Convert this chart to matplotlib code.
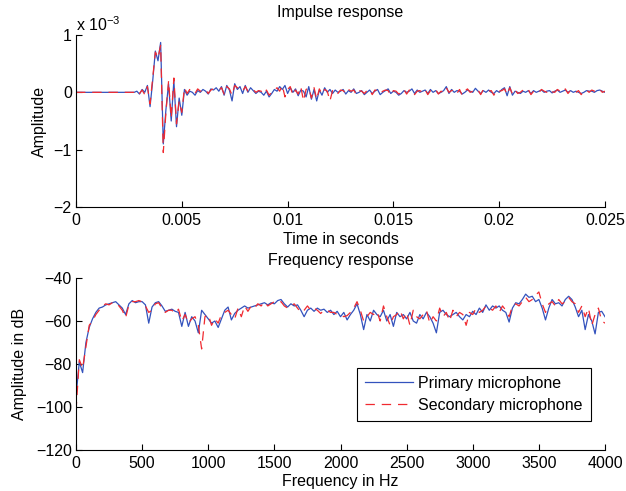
import matplotlib
matplotlib.use("Agg")
import matplotlib.pyplot as plt
import numpy as np

plt.rcParams['font.family'] = ['Liberation Sans', 'DejaVu Sans']
plt.rcParams['mathtext.fontset'] = 'custom'
plt.rcParams['mathtext.rm'] = 'Liberation Sans'
plt.rcParams['mathtext.it'] = 'Liberation Sans:italic'

# impulse response, sampled at 8 kHz, amplitudes in units of 1e-3
fs = 8000
imp_primary = [
    0, 0, 0, 0, 0, 0, 0, 0, 0, 0,
    0, 0, 0, 0, 0, 0, 0, 0, 0, 0,
    0, 0, 0.0, 0.02, -0.03, 0.05, 0.0, 0.12, -0.25, 0.2,
    0.72, 0.55, 0.87, -0.9, -0.3, 0.15, -0.5, 0.2, -0.6, -0.1,
    -0.4, 0.05, -0.05, 0.02, 0.0, -0.05, 0.03, 0.0, 0.05, 0.02,
    -0.03, 0.06, 0.04, 0.08, 0.02, 0.1, -0.05, 0.12, 0.04, -0.15,
    0.15, 0.05, 0.1, -0.02, 0.12, 0.0, 0.08, 0.03, -0.02, 0.02,
    0.0, -0.05, 0.02, -0.08, -0.02, 0.05, 0.02, 0.1, 0.05, 0.12,
    -0.02, 0.08, 0.0, 0.06, -0.06, 0.04, 0.02, -0.08, 0.1, -0.12,
    0.05, -0.15, 0.04, -0.05, 0.08, 0.0, 0.05, -0.02, 0.04, 0.0,
    0.02, 0.05, -0.03, 0.03, 0.0, 0.06, -0.02, 0.0, 0.03, -0.04,
    0.0, 0.04, -0.02, 0.02, 0.05, -0.04, 0.0, 0.03, 0.06, -0.02,
    0.02, 0.0, -0.05, -0.02, 0.03, 0.0, 0.02, 0.06, -0.02, 0.04,
    0.0, 0.02, 0.04, -0.02, 0.05, 0.0, 0.03, -0.02, 0.0, 0.03,
    0.1, -0.02, 0.05, 0.0, 0.03, 0.02, -0.03, 0.0, 0.04, 0.02,
    0.0, 0.07, 0.02, -0.02, 0.03, 0.0, 0.04, 0.0, -0.02, 0.03,
    0.0, 0.05, 0.08, -0.06, 0.1, -0.05, 0.02, 0.0, -0.02, 0.02,
    0.0, 0.03, -0.02, 0.03, 0.0, 0.02, 0.04, 0.0, 0.02, 0.03,
    -0.01, 0.02, 0.04, 0.0, 0.02, 0.04, 0.0, 0.03, 0.0, 0.02,
    0.0, -0.02, 0.0, 0.03, 0.02, 0.02, 0.0, 0.03, 0.04, 0.02,
    0.0,
]
imp_secondary = [
    0, 0, 0, 0, 0, 0, 0, 0, 0, 0,
    0, 0, 0, 0, 0, 0, 0, 0, 0, 0,
    0, 0, 0.0, 0.03, -0.02, 0.04, -0.04, 0.1, -0.2, 0.25,
    0.7, 0.6, 0.82, -1.05, -0.35, 0.2, -0.45, 0.25, -0.55, -0.15,
    -0.35, 0.08, -0.02, 0.05, 0.0, -0.02, 0.06, 0.02, 0.03, 0.05,
    -0.02, 0.04, 0.06, 0.05, 0.04, 0.08, -0.03, 0.1, 0.06, -0.05,
    0.12, 0.08, 0.06, 0.02, 0.1, 0.02, 0.05, 0.05, 0.0, 0.03,
    0.02, -0.03, 0.04, -0.05, 0.0, 0.04, 0.08, 0.02, 0.12, -0.08,
    0.05, 0.1, -0.05, 0.04, -0.03, 0.1, -0.15, 0.05, 0.08, -0.1,
    0.08, -0.12, 0.06, -0.03, 0.05, 0.02, -0.15, 0.03, 0.05, -0.02,
    0.04, 0.03, -0.02, 0.05, 0.02, 0.04, -0.04, 0.03, 0.02, -0.02,
    0.03, 0.05, -0.04, 0.04, 0.03, -0.02, 0.02, 0.04, 0.03, -0.05,
    0.03, 0.02, -0.03, 0.0, 0.05, -0.03, 0.04, 0.04, -0.04, 0.02,
    0.03, 0.0, 0.05, -0.04, 0.03, 0.02, 0.05, -0.03, 0.02, 0.0,
    0.08, 0.0, 0.03, 0.04, -0.02, 0.05, -0.05, 0.02, 0.06, 0.0,
    0.02, 0.05, 0.04, -0.04, 0.05, 0.02, 0.02, 0.03, -0.05, 0.04,
    0.02, 0.03, 0.06, -0.04, 0.08, -0.03, 0.04, -0.02, 0.0, 0.04,
    0.02, 0.05, -0.04, 0.02, 0.03, 0.0, 0.05, 0.02, 0.0, 0.05,
    0.01, 0.0, 0.05, 0.02, 0.0, 0.06, -0.02, 0.04, 0.02, 0.0,
    0.03, -0.04, 0.02, 0.04, 0.0, 0.04, 0.02, 0.01, 0.05, 0.0,
    0.02,
]
time_ticks = [0, 0.005, 0.01, 0.015, 0.02, 0.025]
time_labels = ['0', '0.005', '0.01', '0.015', '0.02', '0.025']
amp_ticks = [-2, -1, 0, 1]

# frequency response, 25 Hz bins, in dB
df = 25
freq_primary = [
    -95, -79, -84, -70, -63, -59, -56, -54,
    -53.5, -52.5, -52, -51.5, -51, -52.5, -54, -57,
    -52, -50.5, -51.5, -51, -51, -52.5, -61, -53.5,
    -51.5, -51, -53, -55.5, -55, -54.5, -55.5, -56,
    -62.5, -56, -62.5, -58, -60, -65.5, -55, -57,
    -59, -61, -60, -63, -59, -55, -53.5, -59.5,
    -56.5, -55, -54, -53, -54, -53.5, -53, -52.5,
    -52, -51.5, -52.5, -51.5, -52, -50.5, -50, -52,
    -53.5, -52, -53, -52.5, -55, -58, -55, -54,
    -55.5, -54, -55, -54.5, -56, -55, -57, -55.5,
    -58, -56, -59.5, -57, -55, -52, -57, -64,
    -57, -60, -55, -57, -58, -55, -60, -57,
    -62.5, -56, -58, -57, -59, -56, -60, -61,
    -57, -59, -56, -58, -61, -65.5, -56, -55,
    -57, -58, -57, -56, -58, -59.5, -57, -58,
    -55.5, -57, -54, -56, -52.5, -55, -53, -54,
    -53, -55, -56, -60.5, -54, -51.5, -52, -50,
    -47.5, -49, -48.5, -51, -50, -54, -59.5, -54,
    -50, -52, -51.5, -53, -50, -48.5, -50, -53.5,
    -58, -55, -64, -57, -60, -66, -56, -55.5,
    -58,
]
freq_secondary = [
    -102, -78, -82, -72, -62, -60, -57, -55,
    -53, -52, -52.5, -51.5, -51.5, -53, -55, -58.5,
    -52.5, -51, -51, -50.5, -51, -53, -56, -55,
    -52, -51.5, -54, -56, -55, -55, -56.5, -54.5,
    -60, -57, -61, -59, -58, -62, -73, -58,
    -57, -62, -59, -61, -57, -56, -55, -57,
    -59, -54, -58, -53, -55.5, -53, -54, -52,
    -53, -51, -53, -52, -51, -51.5, -51, -53,
    -54, -53, -52, -54, -56, -55, -53, -55,
    -54, -55, -56.5, -55, -55, -56, -56, -57,
    -57, -58, -57.5, -56, -54, -51, -55, -60,
    -58, -56, -57, -55.5, -60, -53, -58, -62,
    -58, -57, -55, -59, -56, -62, -55, -58,
    -59, -57, -55, -61, -58, -60, -54, -58,
    -56, -60, -55, -58, -56, -57, -62, -56,
    -57, -54, -56, -55, -53, -54, -55, -53,
    -56, -53, -55, -58, -53, -52, -53, -51,
    -49, -51, -50, -48, -46.5, -52, -56, -52,
    -51, -53, -50, -52, -51, -49, -51, -52,
    -56, -53, -58, -54, -62, -57, -54, -60,
    -61,
]
freq_ticks = [0, 500, 1000, 1500, 2000, 2500, 3000, 3500, 4000]
db_ticks = [-120, -100, -80, -60, -40]
series_names = ['Primary microphone', 'Secondary microphone']

blue = '#3352bd'
red = '#f02a30'
fsz = 11.5
dash = (7.5, 5.5)

t = np.arange(len(imp_primary)) / fs
f = np.arange(len(freq_primary)) * df

fig = plt.figure(figsize=(6.26, 4.91), dpi=100)
ax1 = fig.add_axes([76/626, 1-207/491, 529/626, 172/491])
ax2 = fig.add_axes([76/626, 1-450/491, 529/626, 172/491])

for ax in (ax1, ax2):
    for s in ('top', 'right'):
        ax.spines[s].set_visible(False)
    ax.tick_params(direction='in', length=4, labelsize=fsz)
    ax.tick_params(axis='x', pad=4)
    ax.tick_params(axis='y', pad=3)

ax1.plot(t, imp_primary, color=blue, lw=0.9)
ax1.plot(t, imp_secondary, color=red, lw=0.9, dashes=dash)
ax1.set_xlim(0, 0.025)
ax1.set_ylim(-2, 1)
ax1.set_xticks(time_ticks)
ax1.set_xticklabels(time_labels)
ax1.set_yticks(amp_ticks)
ax1.set_xlabel('Time in seconds', fontsize=fsz, labelpad=3.5)
ax1.set_ylabel('Amplitude', fontsize=fsz, labelpad=4.5)
ax1.set_title('Impulse response', fontsize=fsz, pad=13)
ax1.text(0.0, 1.005, r'x 10$^{-3}$', transform=ax1.transAxes,
         fontsize=fsz, ha='left', va='bottom')

ax2.plot(f, freq_primary, color=blue, lw=0.9, label=series_names[0])
ax2.plot(f, freq_secondary, color=red, lw=0.9, dashes=dash, label=series_names[1])
ax2.set_xlim(0, 4000)
ax2.set_ylim(-120, -40)
ax2.set_xticks(freq_ticks)
ax2.set_yticks(db_ticks)
ax2.set_xlabel('Frequency in Hz', fontsize=fsz, labelpad=2.5)
ax2.set_ylabel('Amplitude in dB', fontsize=fsz, labelpad=6)
ax2.set_title('Frequency response', fontsize=fsz, pad=9)

leg = ax2.legend(loc='lower right', bbox_to_anchor=(0.9735, 0.169), fontsize=fsz,
                 fancybox=False, framealpha=1, edgecolor='black',
                 handlelength=3.0, handletextpad=0.35, borderpad=0.5,
                 labelspacing=0.45, borderaxespad=0)
leg.get_frame().set_linewidth(0.8)

fig.savefig('out.png', dpi=100)
